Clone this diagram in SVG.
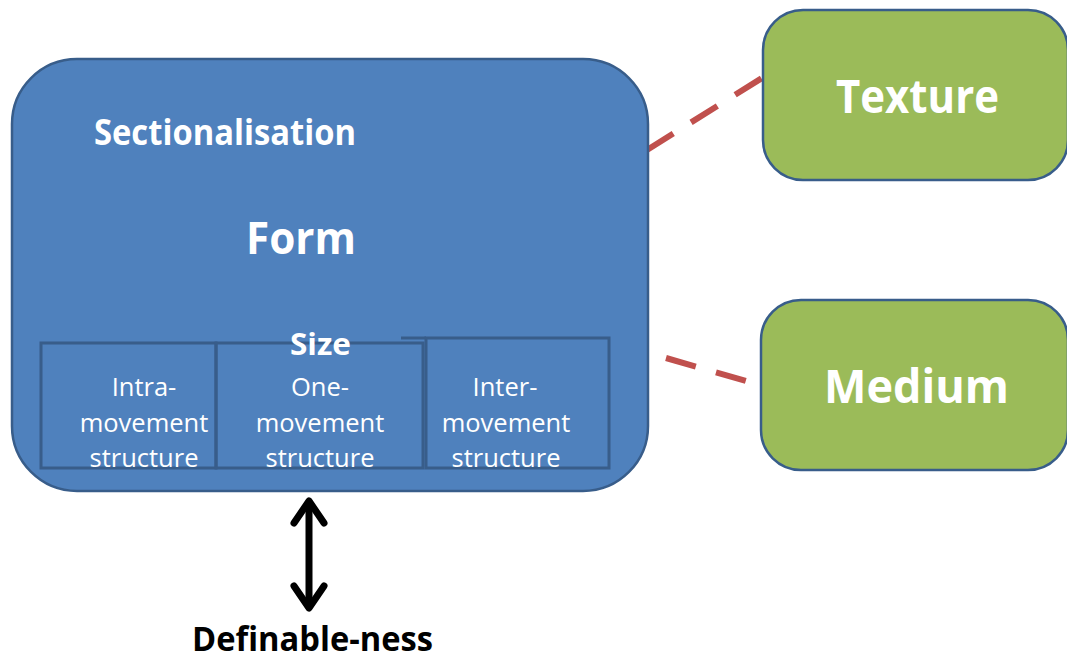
<svg xmlns="http://www.w3.org/2000/svg" width="1067" height="662" viewBox="0 0 1067 662">
  <style>
    .blue { fill: #4f81bd; stroke: #385d8a; stroke-width: 2.5; }
    .green { fill: #9bbb59; stroke: #385d8a; stroke-width: 2.5; }
    .sub { fill: none; stroke: #385d8a; stroke-width: 3; }
    .dash { fill: none; stroke: #c0504d; stroke-width: 6; stroke-dasharray: 31 21; }
    .arrow { fill: none; stroke: #000; stroke-width: 7; }
    .tb { font-family: "Open Sans", "DejaVu Sans", sans-serif; font-weight: bold; fill: #fff; text-anchor: middle; }
    .tr { font-family: "Open Sans", "DejaVu Sans", sans-serif; font-weight: normal; fill: #fff; text-anchor: middle; font-size: 25.5px; }
    .tk { font-family: "Open Sans", "DejaVu Sans", sans-serif; font-weight: bold; fill: #000; text-anchor: middle; }
  </style>
  <defs>
    <marker id="chev" markerUnits="userSpaceOnUse" viewBox="-30 -20 40 40" markerWidth="40" markerHeight="40" refX="0" refY="0" orient="auto-start-reverse" overflow="visible">
      <path d="M-22,-15 L0,0 L-22,15" fill="none" stroke="#000" stroke-width="7" stroke-linecap="round" stroke-linejoin="round"/>
    </marker>
  </defs>

  <g id="connectors">
    <path class="dash" d="M647,150 L762,78"/>
    <path class="dash" d="M666,358 L746,381"/>
    <path class="arrow" d="M309,501 L309,608" marker-start="url(#chev)" marker-end="url(#chev)"/>
  </g>

  <g id="form">
    <rect class="blue" x="12" y="59" width="636" height="432" rx="65" ry="65"/>
    <text class="tb" x="225" y="145" font-size="35" textLength="262" lengthAdjust="spacingAndGlyphs">Sectionalisation</text>
    <text class="tb" x="301" y="254" font-size="44" textLength="110" lengthAdjust="spacingAndGlyphs">Form</text>
  </g>

  <g id="intra">
    <rect class="sub" x="41" y="343" width="175" height="125"/>
    <text class="tr" x="144" y="396">Intra-</text>
    <text class="tr" x="144" y="432">movement</text>
    <text class="tr" x="144" y="467">structure</text>
  </g>

  <g id="one">
    <rect class="sub" x="216" y="343" width="207" height="125"/>
    <text class="tr" x="320" y="396">One-</text>
    <text class="tr" x="320" y="432">movement</text>
    <text class="tr" x="320" y="467">structure</text>
  </g>

  <g id="inter">
    <rect class="sub" x="426" y="338" width="183" height="130"/>
    <path class="sub" d="M401,338 L426,338"/>
    <text class="tr" x="505" y="396">Inter-</text>
    <text class="tr" x="506" y="432">movement</text>
    <text class="tr" x="506" y="467">structure</text>
  </g>

  <g id="size">
    <text class="tb" x="320.5" y="355" font-size="31" textLength="61" lengthAdjust="spacingAndGlyphs">Size</text>
  </g>

  <g id="texture">
    <rect class="green" x="763" y="10" width="305" height="170" rx="40" ry="40"/>
    <text class="tb" x="917.5" y="113" font-size="46" textLength="163" lengthAdjust="spacingAndGlyphs">Texture</text>
  </g>

  <g id="medium">
    <rect class="green" x="761" y="300" width="307" height="170" rx="40" ry="40"/>
    <text class="tb" x="916.5" y="403" font-size="47" textLength="185" lengthAdjust="spacingAndGlyphs">Medium</text>
  </g>

  <g id="definable">
    <text class="tk" x="312.5" y="651" font-size="34" textLength="241" lengthAdjust="spacingAndGlyphs">Definable-ness</text>
  </g>
</svg>
